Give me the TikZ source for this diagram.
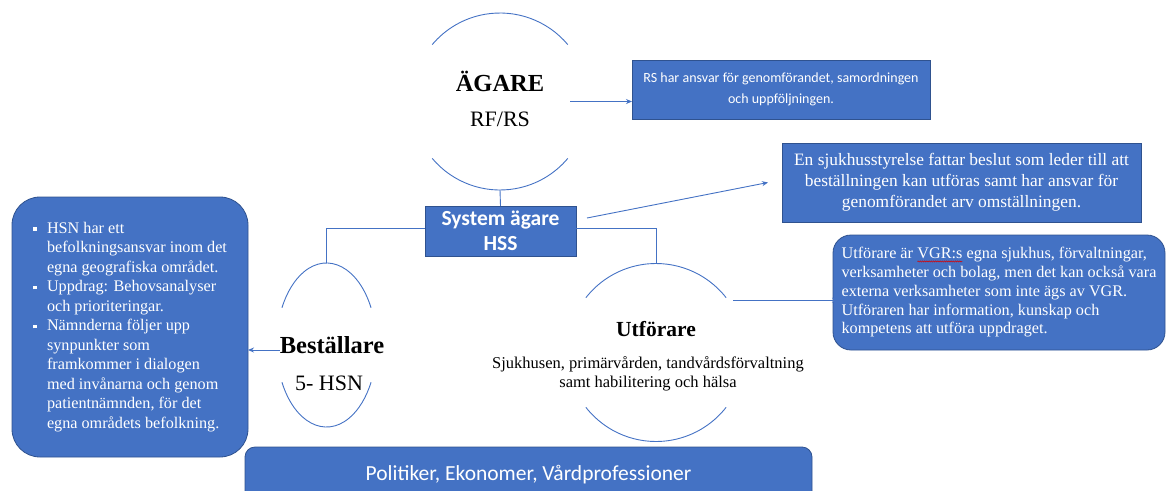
\documentclass[tikz,border=0pt]{standalone}
\usepackage{fontspec}
\setmainfont{Liberation Serif}
\newfontfamily\calfont{Carlito}
\usetikzlibrary{shapes.geometric,arrows.meta,decorations.pathmorphing}
\definecolor{ofblue}{HTML}{4472C4}
\definecolor{ofedge}{HTML}{2F528F}
\newcommand\bul{\raisebox{2.5pt}{\rule{3.5pt}{3.5pt}}}
\newcommand\wavy[1]{\tikz[baseline=(wv.base)]{\node[rectangle,inner sep=0pt,outer sep=0pt,draw=none,fill=none,sharp corners,minimum width=0pt,minimum height=0pt,text=white,anchor=base] (wv) {#1};\draw[red!85!black,line width=0.5pt,fill=none,sharp corners,decorate,decoration={snake,amplitude=0.6pt,segment length=2.2pt}] ([yshift=-2.5pt]wv.base west) -- ([yshift=-2.5pt]wv.base east);}}
\begin{document}
\begin{tikzpicture}[x=1pt,y=-1pt,
  box/.style={draw=ofedge, line width=0.8pt, fill=ofblue, text=white, inner sep=0pt, outer sep=0pt},
  conn/.style={draw=ofblue, line width=0.9pt},
  arr/.style={conn, -{Stealth[length=6pt,width=5pt]}},
  ring/.style={draw=none, inner sep=0pt, outer sep=0pt},
  lbl/.style={text=black, inner sep=0pt}]
\useasboundingbox (0,0) rectangle (1167,490);
\clip (0,0) rectangle (1167,490);

% circles / ellipses
\node[ring, circle, minimum size=177pt] (ag) at (500,101.5) {};
\node[ring, ellipse, minimum width=100pt, minimum height=164pt] (be) at (326.5,345) {};
\node[ring, circle, minimum size=178pt] (ut) at (656,352.5) {};

\draw[conn, shift={(ag.center)}, x=1pt, y=1pt] (40:88.5) arc[start angle=40, end angle=140, radius=88.5];
\draw[conn, shift={(ag.center)}, x=1pt, y=1pt] (220:88.5) arc[start angle=220, end angle=320, radius=88.5];
\draw[conn, shift={(be.center)}, x=1pt, y=1pt] (27:50 and 82) arc[start angle=27, end angle=153, x radius=50, y radius=82];
\draw[conn, shift={(be.center)}, x=1pt, y=1pt] (207:50 and 82) arc[start angle=207, end angle=333, x radius=50, y radius=82];
\draw[conn, shift={(ut.center)}, x=1pt, y=1pt] (38:89) arc[start angle=38, end angle=142, radius=89];
\draw[conn, shift={(ut.center)}, x=1pt, y=1pt] (218:89) arc[start angle=218, end angle=322, radius=89];

\node[lbl, anchor=base, font=\bfseries\fontsize{24.5}{27}\selectfont] (agt) at (500,91.5) {ÄGARE};
\node[lbl, anchor=base, font=\fontsize{22}{26}\selectfont] (ags) at (500,126) {RF/RS};
\node[lbl, anchor=base, font=\bfseries\fontsize{24.5}{27}\selectfont] (bet) at (332,353) {Beställare};
\node[lbl, anchor=base, font=\fontsize{22}{26}\selectfont] (bes) at (329,390) {5- HSN};
\node[lbl, anchor=base, font=\bfseries\fontsize{21.5}{24}\selectfont] (utt) at (656,336) {Utförare};
\node[lbl, align=center, font=\fontsize{16.5}{18.5}\selectfont] (uts) at (648,374) {Sjukhusen, primärvården, tandvårdsförvaltning\\samt habilitering och hälsa};

% boxes
\node[box, minimum width=151pt, minimum height=50pt, align=center, font=\calfont\bfseries\fontsize{21.5}{25.5}\selectfont] (hss) at (500.5,231) {System ägare\\HSS};
\node[box, minimum width=298pt, minimum height=59pt, align=center, font=\calfont\fontsize{14}{21}\selectfont] (rs) at (781,89.5) {RS har ansvar för genomförandet, samordningen\\och uppföljningen.};
\node[box, minimum width=359pt, minimum height=79pt, align=center, font=\fontsize{17.4}{21}\selectfont] (sj) at (961.5,182.5) {En sjukhusstyrelse fattar beslut som leder till att\\beställningen kan utföras samt har ansvar för\\genomförandet arv omställningen.};
\node[box, rounded corners=18pt, minimum width=332pt, minimum height=115pt, align=left, font=\fontsize{16.2}{18.75}\selectfont] (ub) at (999,292.5) {Utförare är \wavy{VGR:s} egna sjukhus, förvaltningar,\\verksamheter och bolag, men det kan också vara\\externa verksamheter som inte ägs av VGR.\\Utföraren har information, kunskap och\\kompetens att utföra uppdraget.};
\node[box, rounded corners=28pt, minimum width=236pt, minimum height=260pt, align=left, font=\fontsize{16.2}{19.5}\selectfont] (hsn) at (130,327) {\makebox[14pt][l]{\bul}HSN har ett\\\hspace*{14pt}befolkningsansvar inom det\\\hspace*{14pt}egna geografiska området.\\\makebox[14pt][l]{\bul}Uppdrag: Behovsanalyser\\\hspace*{14pt}och prioriteringar.\\\makebox[14pt][l]{\bul}Nämnderna följer upp\\\hspace*{14pt}synpunkter som\\\hspace*{14pt}framkommer i dialogen\\\hspace*{14pt}med invånarna och genom\\\hspace*{14pt}patientnämnden, för det\\\hspace*{14pt}egna områdets befolkning.};
\node[box, rounded corners=10pt, minimum width=567pt, minimum height=56pt, font=\calfont\fontsize{21.5}{25}\selectfont] (pol) at (528.5,475) {Politiker, Ekonomer, Vårdprofessioner};

% connectors
\draw[conn] (ag.south) -- (hss.north);
\draw[conn] ([yshift=3pt]hss.west) -| (be.north);
\draw[conn] ([yshift=3pt]hss.east) -| (ut.north);
\draw[arr] ([xshift=-18.5pt]ag.east) -- (rs.west |- ag.east);
\draw[arr] ([xshift=11pt,yshift=13pt]hss.east) -- ([xshift=-14pt]sj.west);
\draw[arr] ([xshift=3pt,yshift=-5pt]be.west) -- ([yshift=-5pt]be.west -| hsn.east);
\draw[arr] ([xshift=5pt]ut.36) -- ([xshift=5pt]ut.36 -| ub.west);
\end{tikzpicture}
\end{document}
